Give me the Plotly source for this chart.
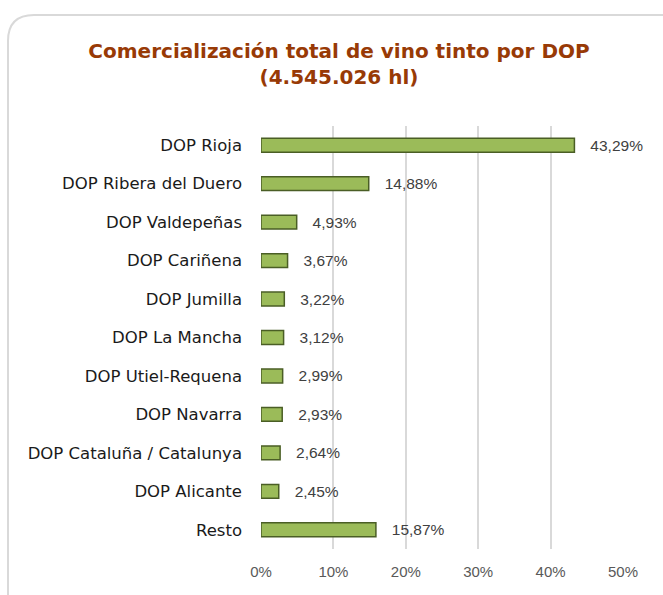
import plotly.graph_objects as go

categories = ["DOP Rioja", "DOP Ribera del Duero", "DOP Valdepeñas", "DOP Cariñena",
              "DOP Jumilla", "DOP La Mancha", "DOP Utiel-Requena", "DOP Navarra",
              "DOP Cataluña / Catalunya", "DOP Alicante", "Resto"]
values = [43.29, 14.88, 4.93, 3.67, 3.22, 3.12, 2.99, 2.93, 2.64, 2.45, 15.87]
labels = ["43,29%", "14,88%", "4,93%", "3,67%", "3,22%", "3,12%", "2,99%", "2,93%",
          "2,64%", "2,45%", "15,87%"]
tick_vals = [0, 0.1, 0.2, 0.3, 0.4, 0.5]
tick_text = ["0%", "10%", "20%", "30%", "40%", "50%"]

W, H = 663, 595
ML, MR, MT, MB = 261, 40, 126, 46
pw, ph = W - ML - MR, H - MT - MB

def px(x):
    return (x - ML) / pw

def py(y):
    return 1 - (y - MT) / ph

fig = go.Figure(go.Bar(
    y=categories,
    x=[v / 100 for v in values],
    orientation="h",
    text=["   " + t for t in labels],
    textposition="outside",
    constraintext="none",
    cliponaxis=False,
    textfont=dict(family="Liberation Sans, Arial", size=15.5, color="#404040"),
    marker=dict(color="#9bbb59", line=dict(color="#4a5e25", width=1.5)),
    hoverinfo="skip",
))

# rounded chart-area border
r = 26
x0, y0 = 8, 15
x1, y1 = 700, 640
path = (f"M {px(x0)} {py(y1)} L {px(x0)} {py(y0 + r)} "
        f"Q {px(x0)} {py(y0)} {px(x0 + r)} {py(y0)} "
        f"L {px(x1 - r)} {py(y0)} Q {px(x1)} {py(y0)} {px(x1)} {py(y0 + r)} "
        f"L {px(x1)} {py(y1)}")

fig.update_layout(
    width=W, height=H,
    margin=dict(l=ML, r=MR, t=MT, b=MB),
    paper_bgcolor="white", plot_bgcolor="white",
    showlegend=False,
    bargap=0.64,
    title=dict(
        text="Comercialización total de vino tinto por DOP<br>(4.545.026 hl)",
        x=339 / W, xanchor="center", y=1 - 58 / H, yanchor="top",
        font=dict(family="DejaVu Sans", size=20, color="#983a06", weight="bold"),
    ),
    xaxis=dict(
        range=[0, 0.5], tickvals=tick_vals, ticktext=tick_text,
        showgrid=True, gridcolor="#d9d9d9", gridwidth=2,
        zeroline=False, showline=False, ticks="",
        ticklabelstandoff=12,
        tickfont=dict(family="Liberation Sans, Arial", size=15, color="#595959"),
        fixedrange=True,
    ),
    yaxis=dict(
        categoryorder="array", categoryarray=categories, autorange="reversed",
        showgrid=False, zeroline=False, showline=False, ticks="",
        ticklabelstandoff=18,
        tickfont=dict(family="DejaVu Sans", size=16.5, color="#1a1a1a"),
        fixedrange=True,
    ),
    shapes=[dict(type="path", path=path, xref="paper", yref="paper",
                 line=dict(color="#d9d9d9", width=2), layer="below")],
)

fig.write_html("out.html", config={"displayModeBar": False},
               post_script="document.body.style.margin='0';")
